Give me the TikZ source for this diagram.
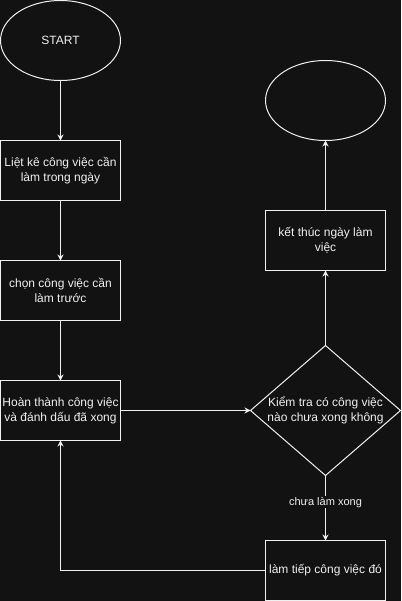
\documentclass[tikz,border=0pt]{standalone}
\usepackage{fontspec}
\setmainfont{Liberation Sans}
\usetikzlibrary{positioning,shapes.geometric,arrows.meta}
\definecolor{bgdark}{HTML}{121212}
\definecolor{inkline}{HTML}{F0F0F0}

\begin{document}
\begin{tikzpicture}[x=1pt,y=-1pt,
   every node/.style={text=inkline, font=\fontsize{12}{15}\selectfont},
   terminal/.style={draw=inkline, line width=1pt, ellipse, minimum width=120pt, minimum height=80pt, inner sep=0pt, outer sep=0pt},
   task/.style={draw=inkline, line width=1pt, rectangle, minimum width=120pt, minimum height=60pt, inner sep=0pt, outer sep=0pt, align=center},
   decision/.style={draw=inkline, line width=1pt, diamond, minimum width=150pt, minimum height=130pt, inner sep=0pt, outer sep=0pt},
   flow/.style={draw=inkline, line width=1pt, -{Stealth[length=6pt,width=6pt]}},
   node distance=60pt]

\useasboundingbox[fill=bgdark] (0,0) rectangle (401,601);

% left column
\node[terminal] (start) at (60.5,40.5) {START};
\node[task, below=of start] (list) {Liệt kê công việc cần\\làm trong ngày};
\node[task, below=of list] (pick) {chọn công việc cần\\làm trước};
\node[task, below=of pick] (done) {Hoàn thành công việc\\và đánh dấu đã xong};

% right column
\node[decision, right=130pt of done,
      label={[align=center]center:Kiểm tra có công việc\\nào chưa xong không}] (check) {};
\node[task, above=75pt of check] (finish) {kết thúc ngày làm\\việc};
\node[terminal, above=70pt of finish] (stop) {};
\node[task, below=65pt of check] (resume) {làm tiếp công việc đó};

\draw[flow] (start) -- (list);
\draw[flow] (list) -- (pick);
\draw[flow] (pick) -- (done);
\draw[flow] (done) -- (check);
\draw[flow] (check) -- (finish);
\draw[flow] (finish) -- (stop);
\draw[flow] (check) -- node[pos=0.41, fill=bgdark, inner sep=1pt, font=\fontsize{11}{13}\selectfont] {chưa làm xong} (resume);
\draw[flow] (resume.west) -| (done.south);

\end{tikzpicture}
\end{document}
